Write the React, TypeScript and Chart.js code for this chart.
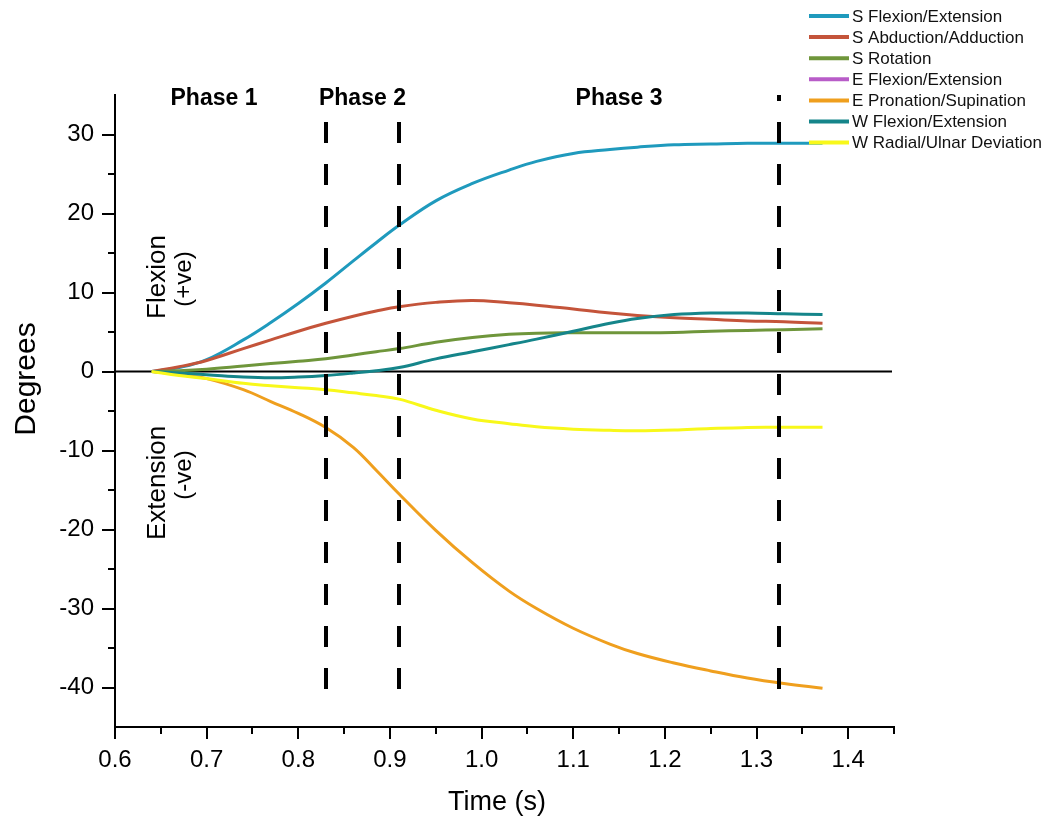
import React, { useEffect, useRef } from 'react';
import { Chart, registerables } from 'chart.js';
Chart.register(...registerables);

const FONT = "'Liberation Sans', Arial, sans-serif";

const times = [0.64, 0.67, 0.70, 0.74, 0.77, 0.80, 0.83, 0.86, 0.885, 0.91, 0.95, 0.99, 1.03, 1.06, 1.10, 1.14, 1.17, 1.21, 1.25, 1.29, 1.33, 1.372];

const sFlexExt = [0, 0.5, 1.5, 4.0, 6.2, 8.6, 11.2, 14.0, 16.3, 18.5, 21.6, 23.8, 25.5, 26.6, 27.6, 28.1, 28.4, 28.7, 28.8, 28.9, 28.9, 28.9];
const sAbdAdd = [0, 0.6, 1.4, 2.9, 4.0, 5.1, 6.1, 7.0, 7.65, 8.2, 8.75, 9.0, 8.7, 8.4, 7.9, 7.4, 7.1, 6.8, 6.6, 6.4, 6.3, 6.1];
const sRotation = [0, 0.1, 0.3, 0.7, 1.0, 1.3, 1.6, 2.1, 2.5, 2.9, 3.7, 4.3, 4.7, 4.85, 4.9, 4.9, 4.9, 4.95, 5.1, 5.2, 5.3, 5.4];
const eFlexExt: number[] = [];
const eProSup = [0, -0.4, -0.9, -2.3, -3.8, -5.3, -7.1, -9.6, -12.5, -15.5, -20.1, -24.2, -27.8, -30.0, -32.5, -34.5, -35.7, -36.9, -37.9, -38.8, -39.5, -40.1];
const wFlexExt = [0, -0.2, -0.4, -0.7, -0.8, -0.7, -0.5, -0.2, 0.1, 0.5, 1.6, 2.5, 3.4, 4.1, 5.1, 6.1, 6.7, 7.2, 7.4, 7.4, 7.3, 7.2];
const wRadUln = [0, -0.5, -0.9, -1.5, -1.8, -2.05, -2.3, -2.7, -3.05, -3.5, -4.9, -6.0, -6.6, -7.0, -7.3, -7.45, -7.5, -7.4, -7.2, -7.1, -7.05, -7.05];

const seriesNames = [
  'S Flexion/Extension',
  'S Abduction/Adduction',
  'S Rotation',
  'E Flexion/Extension',
  'E Pronation/Supination',
  'W Flexion/Extension',
  'W Radial/Ulnar Deviation',
];
const seriesValues = [sFlexExt, sAbdAdd, sRotation, eFlexExt, eProSup, wFlexExt, wRadUln];
const seriesColors = ['#1f9abd', '#c4543a', '#6f963b', '#b85cc8', '#ef9f1e', '#15858a', '#f8f81a'];

const yTicks = [-40, -30, -20, -10, 0, 10, 20, 30];
const yMinorTicks = [-35, -25, -15, -5, 5, 15, 25];
const xTicks = [0.6, 0.7, 0.8, 0.9, 1.0, 1.1, 1.2, 1.3, 1.4];
const xMinorTicks = [0.65, 0.75, 0.85, 0.95, 1.05, 1.15, 1.25, 1.35, 1.45];

const phaseLines = [0.83, 0.91, 1.325];
const phaseLabels = ['Phase 1', 'Phase 2', 'Phase 3'];
const phaseLabelX = [0.708, 0.87, 1.15];

const overlayPlugin = {
  id: 'overlay',
  beforeDatasetsDraw(chart: any) {
    const { ctx, scales } = chart;
    const x = scales.x, y = scales.y;
    ctx.save();
    ctx.strokeStyle = '#000';
    ctx.lineWidth = 2;
    const y0 = y.getPixelForValue(0);
    ctx.beginPath();
    ctx.moveTo(x.left, y0);
    ctx.lineTo(x.right - 2, y0);
    ctx.stroke();
    ctx.restore();
  },
  afterDatasetsDraw(chart: any) {
    const { ctx, scales } = chart;
    const x = scales.x, y = scales.y;
    ctx.save();
    ctx.strokeStyle = '#000';
    ctx.lineWidth = 4;
    ctx.setLineDash([21, 21]);
    phaseLines.forEach((v, i) => {
      const px = Math.round(x.getPixelForValue(v));
      ctx.beginPath();
      ctx.moveTo(px, y.getPixelForValue(-40.2));
      ctx.lineTo(px, y.getPixelForValue(i === 2 ? 35 : 32.6));
      ctx.stroke();
    });
    ctx.restore();
  },
  afterDraw(chart: any) {
    const { ctx, scales } = chart;
    const x = scales.x, y = scales.y;
    ctx.save();
    ctx.strokeStyle = '#000';
    ctx.lineWidth = 2;
    yTicks.forEach((v) => {
      const py = Math.round(y.getPixelForValue(v));
      ctx.beginPath(); ctx.moveTo(x.left, py); ctx.lineTo(x.left - 13, py); ctx.stroke();
    });
    yMinorTicks.forEach((v) => {
      const py = Math.round(y.getPixelForValue(v));
      ctx.beginPath(); ctx.moveTo(x.left, py); ctx.lineTo(x.left - 7, py); ctx.stroke();
    });
    xTicks.forEach((v) => {
      const px = Math.round(x.getPixelForValue(v));
      ctx.beginPath(); ctx.moveTo(px, y.bottom); ctx.lineTo(px, y.bottom + 12); ctx.stroke();
    });
    xMinorTicks.forEach((v) => {
      const px = Math.round(x.getPixelForValue(v));
      ctx.beginPath(); ctx.moveTo(px, y.bottom); ctx.lineTo(px, y.bottom + 7); ctx.stroke();
    });

    ctx.fillStyle = '#000';
    ctx.textAlign = 'center';
    ctx.textBaseline = 'middle';
    ctx.font = `27px ${FONT}`;
    ctx.fillText('Time (s)', 497, 803);
    ctx.save();
    ctx.translate(27, 379);
    ctx.rotate(-Math.PI / 2);
    ctx.font = `30px ${FONT}`;
    ctx.fillText('Degrees', 0, 0);
    ctx.restore();

    const rot = (t: string, cx: number, cy: number, size: number) => {
      ctx.save();
      ctx.translate(cx, cy);
      ctx.rotate(-Math.PI / 2);
      ctx.font = `${size}px ${FONT}`;
      ctx.fillText(t, 0, 0);
      ctx.restore();
    };
    rot('Flexion', 158, 277, 26);
    rot('(+ve)', 184, 279, 24);
    rot('Extension', 158, 483, 26);
    rot('(-ve)', 184, 475, 24);

    ctx.font = `bold 23px ${FONT}`;
    phaseLabels.forEach((t, i) => {
      ctx.fillText(t, x.getPixelForValue(phaseLabelX[i]), 99);
    });

    ctx.textAlign = 'left';
    ctx.font = `17px ${FONT}`;
    seriesNames.forEach((name, i) => {
      const ly = 16 + i * 21.1;
      ctx.strokeStyle = seriesColors[i];
      ctx.lineWidth = 4;
      ctx.beginPath(); ctx.moveTo(809, ly); ctx.lineTo(849, ly); ctx.stroke();
      ctx.fillStyle = '#111';
      ctx.fillText(name, 852, ly + 1);
    });
    ctx.restore();
  },
};

export default function App() {
  const ref = useRef<HTMLCanvasElement | null>(null);
  useEffect(() => {
    document.body.style.margin = '0';
    const canvas = ref.current;
    if (!canvas) return;
    const datasets = seriesValues.map((vals, i) => ({
      label: seriesNames[i],
      data: vals.map((v, j) => ({ x: times[j], y: v })),
      borderColor: seriesColors[i],
      backgroundColor: seriesColors[i],
      borderWidth: 3,
      pointRadius: 0,
      tension: 0.4,
      fill: false,
      order: seriesNames.length - i,
    }));
    const chart = new Chart(canvas, {
      type: 'line',
      data: { datasets },
      options: {
        animation: false,
        responsive: false,
        layout: { padding: { top: 95, right: 158, left: 0, bottom: 0 } },
        plugins: { legend: { display: false }, tooltip: { enabled: false } },
        scales: {
          x: {
            type: 'linear',
            min: 0.6,
            max: 1.45,
            afterFit: (s: any) => { s.height = 99; },
            afterBuildTicks: (s: any) => { s.ticks = xTicks.map((v) => ({ value: v })); },
            grid: { display: false, drawTicks: false },
            border: { display: true, color: '#000', width: 2 },
            ticks: {
              padding: 19,
              color: '#000',
              font: { family: FONT, size: 24 },
              maxRotation: 0,
              callback: (v: any) => Number(v).toFixed(1),
            },
          },
          y: {
            type: 'linear',
            min: -45,
            max: 35,
            afterFit: (s: any) => { s.width = 115; },
            afterBuildTicks: (s: any) => { s.ticks = yTicks.map((v) => ({ value: v })); },
            grid: { display: false, drawTicks: false },
            border: { display: true, color: '#000', width: 2 },
            ticks: {
              padding: 21,
              color: '#000',
              font: { family: FONT, size: 24 },
              callback: (v: any) => String(v),
            },
          },
        },
      },
      plugins: [overlayPlugin],
    });
    return () => chart.destroy();
  }, []);
  return <canvas ref={ref} width={1052} height={826} style={{ display: 'block' }} />;
}
